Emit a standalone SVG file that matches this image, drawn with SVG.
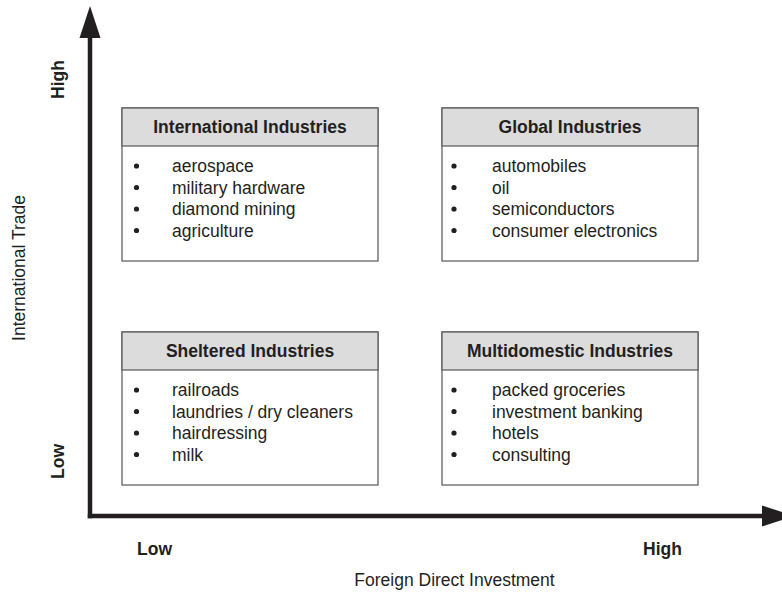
<svg xmlns="http://www.w3.org/2000/svg" width="782" height="592" viewBox="0 0 782 592">
<style>
text{font-family:"Liberation Sans",Arial,sans-serif;fill:#231f20;font-size:17.5px}
.b{font-weight:bold}
.m{text-anchor:middle}
.box{fill:#fff;stroke:#555;stroke-width:1.2}
.hdr{fill:#dcdcdc;stroke:#555;stroke-width:1.2}
.dot{fill:#231f20}
.axis{stroke:#231f20;stroke-width:4.5;fill:none}
.head{fill:#231f20}
</style>
<rect width="782" height="592" fill="#fff"/>
<g id="connectors">
<line class="axis" x1="90" y1="36" x2="90" y2="518.2"/>
<line class="axis" x1="87.8" y1="516" x2="764" y2="516"/>
<polygon class="head" points="90,6 79.5,38 100.5,38"/>
<polygon class="head" points="794,516 762,505.5 762,526.5"/>
</g>
<g id="axis-labels">
<text class="b m" transform="translate(64,79.5) rotate(-90)">High</text>
<text class="b m" transform="translate(64,461.5) rotate(-90)">Low</text>
<text class="m" transform="translate(25,268) rotate(-90)">International Trade</text>
<text class="b m" x="154.5" y="555">Low</text>
<text class="b m" x="662.5" y="555">High</text>
<text class="m" x="454.5" y="586">Foreign Direct Investment</text>
</g>
<g id="international">
<rect class="box" x="122" y="108" width="256" height="153"/>
<rect class="hdr" x="122" y="108" width="256" height="38"/>
<text class="b m" x="250" y="133">International Industries</text>
<circle class="dot" cx="136.5" cy="166" r="2.6"/><text x="172" y="172">aerospace</text>
<circle class="dot" cx="136.5" cy="187.5" r="2.6"/><text x="172" y="193.5">military hardware</text>
<circle class="dot" cx="136.5" cy="209" r="2.6"/><text x="172" y="215">diamond mining</text>
<circle class="dot" cx="136.5" cy="230.5" r="2.6"/><text x="172" y="236.5">agriculture</text>
</g>
<g id="global">
<rect class="box" x="442" y="108" width="256" height="153"/>
<rect class="hdr" x="442" y="108" width="256" height="38"/>
<text class="b m" x="570" y="133">Global Industries</text>
<circle class="dot" cx="454" cy="166" r="2.6"/><text x="492" y="172">automobiles</text>
<circle class="dot" cx="454" cy="187.5" r="2.6"/><text x="492" y="193.5">oil</text>
<circle class="dot" cx="454" cy="209" r="2.6"/><text x="492" y="215">semiconductors</text>
<circle class="dot" cx="454" cy="230.5" r="2.6"/><text x="492" y="236.5">consumer electronics</text>
</g>
<g id="sheltered">
<rect class="box" x="122" y="332" width="256" height="153"/>
<rect class="hdr" x="122" y="332" width="256" height="38"/>
<text class="b m" x="250" y="357">Sheltered Industries</text>
<circle class="dot" cx="136.5" cy="390" r="2.6"/><text x="172" y="396">railroads</text>
<circle class="dot" cx="136.5" cy="411.5" r="2.6"/><text x="172" y="417.5">laundries / dry cleaners</text>
<circle class="dot" cx="136.5" cy="433" r="2.6"/><text x="172" y="439">hairdressing</text>
<circle class="dot" cx="136.5" cy="454.5" r="2.6"/><text x="172" y="460.5">milk</text>
</g>
<g id="multidomestic">
<rect class="box" x="442" y="332" width="256" height="153"/>
<rect class="hdr" x="442" y="332" width="256" height="38"/>
<text class="b m" x="570" y="357">Multidomestic Industries</text>
<circle class="dot" cx="454" cy="390" r="2.6"/><text x="492" y="396">packed groceries</text>
<circle class="dot" cx="454" cy="411.5" r="2.6"/><text x="492" y="417.5">investment banking</text>
<circle class="dot" cx="454" cy="433" r="2.6"/><text x="492" y="439">hotels</text>
<circle class="dot" cx="454" cy="454.5" r="2.6"/><text x="492" y="460.5">consulting</text>
</g>
</svg>
